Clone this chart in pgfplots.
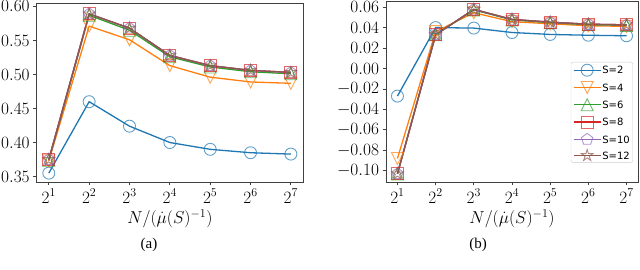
\documentclass[border=0pt]{standalone}
\usepackage{pgfplots}
\pgfplotsset{compat=1.18}
\usepackage{fontspec}
\newfontfamily\legfont{DejaVu Sans}
\newfontfamily\capfont{Liberation Serif}
\definecolor{c0}{HTML}{1F77B4}
\definecolor{c1}{HTML}{FF7F0E}
\definecolor{c2}{HTML}{2CA02C}
\definecolor{c3}{HTML}{D62728}
\definecolor{c4}{HTML}{9467BD}
\definecolor{c5}{HTML}{8C564B}
\pgfdeclareplotmark{tridown}{%
  \pgfpathmoveto{\pgfqpoint{0pt}{-\pgfplotmarksize}}%
  \pgfpathlineto{\pgfqpoint{-\pgfplotmarksize}{\pgfplotmarksize}}%
  \pgfpathlineto{\pgfqpoint{\pgfplotmarksize}{\pgfplotmarksize}}%
  \pgfpathclose\pgfusepathqstroke}
\pgfdeclareplotmark{triup}{%
  \pgfpathmoveto{\pgfqpoint{0pt}{\pgfplotmarksize}}%
  \pgfpathlineto{\pgfqpoint{-\pgfplotmarksize}{-\pgfplotmarksize}}%
  \pgfpathlineto{\pgfqpoint{\pgfplotmarksize}{-\pgfplotmarksize}}%
  \pgfpathclose\pgfusepathqstroke}
\pgfdeclareplotmark{ostar}{%
  \pgfpathmoveto{\pgfpointpolar{90}{\pgfplotmarksize}}%
  \pgfpathlineto{\pgfpointpolar{126}{0.382\pgfplotmarksize}}%
  \pgfpathlineto{\pgfpointpolar{162}{\pgfplotmarksize}}%
  \pgfpathlineto{\pgfpointpolar{198}{0.382\pgfplotmarksize}}%
  \pgfpathlineto{\pgfpointpolar{234}{\pgfplotmarksize}}%
  \pgfpathlineto{\pgfpointpolar{270}{0.382\pgfplotmarksize}}%
  \pgfpathlineto{\pgfpointpolar{306}{\pgfplotmarksize}}%
  \pgfpathlineto{\pgfpointpolar{342}{0.382\pgfplotmarksize}}%
  \pgfpathlineto{\pgfpointpolar{18}{\pgfplotmarksize}}%
  \pgfpathlineto{\pgfpointpolar{54}{0.382\pgfplotmarksize}}%
  \pgfpathclose\pgfusepathqstroke}
\pgfplotsset{
  myax/.style={
    scale only axis,
    xmin=0.7, xmax=7.3,
    xtick={1,2,3,4,5,6,7},
    xticklabels={$2^1$,$2^2$,$2^3$,$2^4$,$2^5$,$2^6$,$2^7$},
    tick pos=left,
    tick align=outside,
    major tick length=3.5pt,
    axis line style={black!75, line width=0.8pt},
    tick style={black!75, line width=0.8pt},
    ticklabel style={font=\LARGE},
    label style={font=\LARGE},
    xlabel={$N/(\dot{\mu}(S)^{-1})$},
    yticklabel style={/pgf/number format/.cd, fixed, fixed zerofill, precision=2},
    every axis plot/.append style={line width=1.3pt},
    legend image code/.code={\draw[mark repeat=2,mark phase=2,##1] plot coordinates {(0pt,0pt) (13.5pt,0pt) (27pt,0pt)};},
  },
  mk/.style={mark options={solid, fill=none, draw opacity=0.7, line width=0.9pt}, mark size=6pt},
}
\begin{document}
\begin{tikzpicture}
\path[use as bounding box] (0,0) rectangle (640pt,270pt);
\begin{axis}[myax, at={(36.7pt,88pt)}, anchor=south west, width=266.3pt, height=179pt,
  ymin=0.342, ymax=0.605, ytick={0.35,0.40,0.45,0.50,0.55,0.60}]
\addplot[c0, mark=o, mk] coordinates {(1,0.355) (2,0.460) (3,0.424) (4,0.400) (5,0.390) (6,0.385) (7,0.383)};
\addplot[c1, mark=tridown, mk] coordinates {(1,0.373) (2,0.571) (3,0.551) (4,0.513) (5,0.496) (6,0.489) (7,0.487)};
\addplot[c2, mark=triup, mk] coordinates {(1,0.374) (2,0.587) (3,0.565) (4,0.526) (5,0.511) (6,0.504) (7,0.501)};
\addplot[c3, mark=square, mk] coordinates {(1,0.375) (2,0.589) (3,0.568) (4,0.528) (5,0.513) (6,0.506) (7,0.503)};
\addplot[c4, mark=pentagon, mk] coordinates {(1,0.375) (2,0.589) (3,0.568) (4,0.528) (5,0.513) (6,0.506) (7,0.503)};
\addplot[c5, mark=ostar, mk] coordinates {(1,0.375) (2,0.589) (3,0.568) (4,0.528) (5,0.513) (6,0.506) (7,0.503)};
\end{axis}
\begin{axis}[myax, at={(386pt,88pt)}, anchor=south west, width=252pt, height=181pt,
  ymin=-0.111, ymax=0.066, ytick={-0.10,-0.08,-0.06,-0.04,-0.02,0.00,0.02,0.04,0.06},
  legend style={at={(axis description cs:0.980,0.663)}, anchor=north east,
    font=\legfont\fontsize{10}{12}\selectfont, draw=black!20, rounded corners=2pt,
    inner xsep=2pt, inner ysep=2pt, row sep=5.3pt,
    nodes={inner sep=1pt, text height=7.5pt, text depth=0pt}},
  legend cell align=left]
\addplot[c0, mark=o, mk] coordinates {(1,-0.027) (2,0.040) (3,0.0395) (4,0.0352) (5,0.0333) (6,0.0325) (7,0.0320)};
\addplot[c1, mark=tridown, mk] coordinates {(1,-0.088) (2,0.036) (3,0.0545) (4,0.0458) (5,0.0437) (6,0.0418) (7,0.0412)};
\addplot[c2, mark=triup, mk] coordinates {(1,-0.103) (2,0.033) (3,0.0573) (4,0.0475) (5,0.0448) (6,0.0428) (7,0.0422)};
\addplot[c3, mark=square, mk] coordinates {(1,-0.103) (2,0.033) (3,0.0578) (4,0.0480) (5,0.0453) (6,0.0433) (7,0.0427)};
\addplot[c4, mark=pentagon, mk] coordinates {(1,-0.103) (2,0.033) (3,0.0578) (4,0.0480) (5,0.0453) (6,0.0433) (7,0.0427)};
\addplot[c5, mark=ostar, mk] coordinates {(1,-0.103) (2,0.033) (3,0.0578) (4,0.0480) (5,0.0453) (6,0.0433) (7,0.0427)};
\legend{S=2,S=4,S=6,S=8,S=10,S=12}
\end{axis}
\node[font=\capfont\fontsize{15}{17}\selectfont] at (149pt,25pt) {(a)};
\node[font=\capfont\fontsize{15}{17}\selectfont] at (478pt,25pt) {(b)};
\end{tikzpicture}
\end{document}
